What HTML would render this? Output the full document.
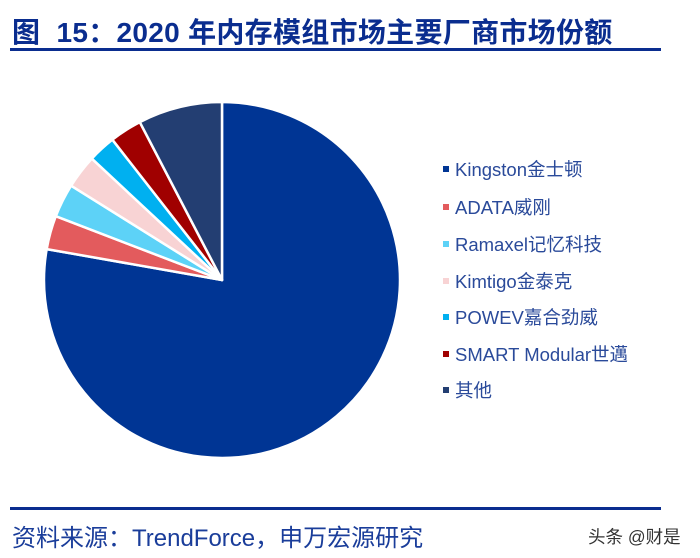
<!DOCTYPE html>
<html><head><meta charset="utf-8"><style>
html,body{margin:0;padding:0;background:#fff;}
body{width:700px;height:558px;position:relative;overflow:hidden;font-family:"Liberation Sans","Noto Sans CJK SC",sans-serif;}
.title{position:absolute;left:12px;top:11px;font-size:28px;font-weight:bold;color:#0a2d8f;white-space:nowrap;letter-spacing:0.3px;}
.line{position:absolute;left:10px;width:651px;height:3px;background:#0a2d8f;}
.src{position:absolute;left:12px;top:518px;font-size:24px;color:#1a3d9a;white-space:nowrap;}
.wm{position:absolute;left:588px;top:524px;font-size:17.5px;color:#333;white-space:nowrap;}
.leg{position:absolute;left:443px;font-size:18.5px;color:#2a4a9a;white-space:nowrap;}
.leg i{display:inline-block;width:6px;height:6px;margin-right:6px;vertical-align:middle;position:relative;top:-2px;}
</style></head><body>
<div class="title">图&nbsp;&nbsp;15：2020 年内存模组市场主要厂商市场份额</div>
<div class="line" style="top:48px"></div>
<svg width="700" height="558" style="position:absolute;left:0;top:0">
<g stroke="#fff" stroke-width="2.5" stroke-linejoin="round">
<path d="M222,280 L222,102 A178,178 0 1 1 46.7,249.1 Z" fill="#003594"/>
<path d="M222,280 L46.7,249.1 A178,178 0 0 1 55.8,216.2 Z" fill="#e35b5d"/>
<path d="M222,280 L55.8,216.2 A178,178 0 0 1 71.1,185.7 Z" fill="#5dd2f7"/>
<path d="M222,280 L71.1,185.7 A178,178 0 0 1 91.8,158.6 Z" fill="#f8d3d4"/>
<path d="M222,280 L91.8,158.6 A178,178 0 0 1 112.4,139.7 Z" fill="#00b0f0"/>
<path d="M222,280 L112.4,139.7 A178,178 0 0 1 139.8,122.1 Z" fill="#a00000"/>
<path d="M222,280 L139.8,122.1 A178,178 0 0 1 222,102 Z" fill="#233e72"/>
</g>
</svg>
<div class="leg" style="top:156px"><i style="background:#003594"></i>Kingston金士顿</div>
<div class="leg" style="top:194px"><i style="background:#e35b5d"></i>ADATA威刚</div>
<div class="leg" style="top:231px"><i style="background:#5dd2f7"></i>Ramaxel记忆科技</div>
<div class="leg" style="top:268px"><i style="background:#f8d3d4"></i>Kimtigo金泰克</div>
<div class="leg" style="top:304px"><i style="background:#00b0f0"></i>POWEV嘉合劲威</div>
<div class="leg" style="top:341px"><i style="background:#a00000"></i>SMART Modular世邁</div>
<div class="leg" style="top:377px"><i style="background:#233e72"></i>其他</div>
<div class="line" style="top:507px"></div>
<div class="src">资料来源：TrendForce，申万宏源研究</div>
<div class="wm">头条 @财是</div>
</body></html>
